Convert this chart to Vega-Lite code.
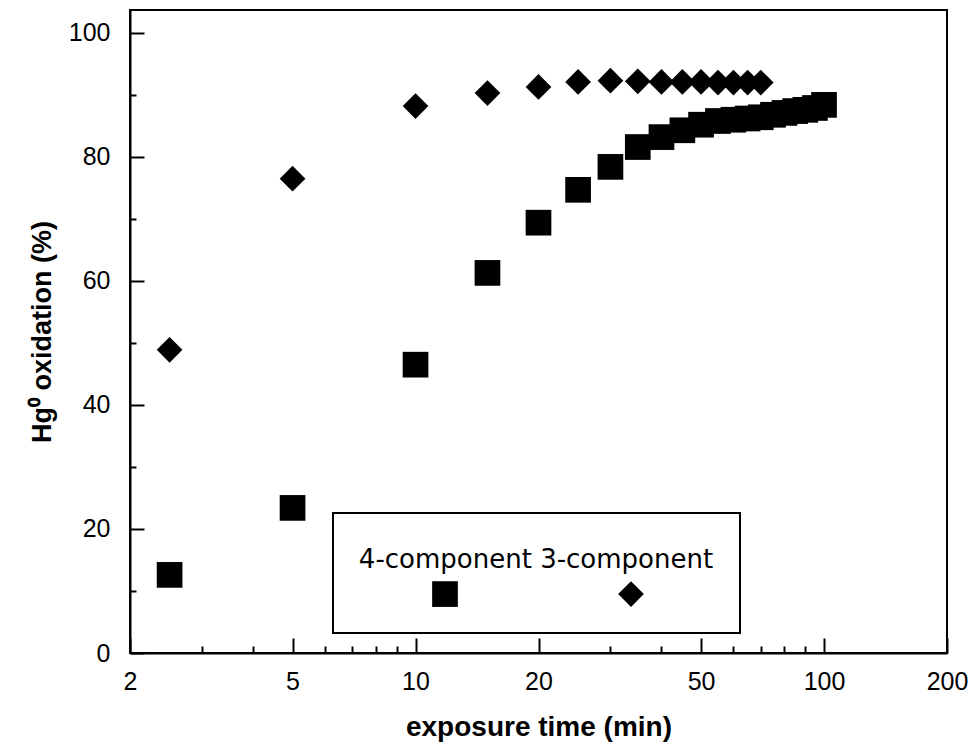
{
  "$schema": "https://vega.github.io/schema/vega-lite/v6.json",
  "autosize": "none",
  "width": 817,
  "height": 643,
  "padding": {"left": 130, "top": 10, "right": 28, "bottom": 91},
  "background": "white",
  "config": {
    "view": {"stroke": "black", "strokeWidth": 2},
    "axis": {
      "domainColor": "black",
      "domainWidth": 2,
      "tickColor": "black",
      "tickWidth": 2,
      "labelColor": "black",
      "labelFont": "Liberation Sans",
      "labelFontSize": 25,
      "titleFont": "Liberation Sans",
      "titleFontWeight": "bold",
      "titleColor": "black",
      "grid": false
    },
    "legend": {
      "strokeWidth": 2
    }
  },
  "data": {
    "values": [
      {"t": 2.5, "v": 12.6, "series": "4-component"},
      {"t": 5, "v": 23.4, "series": "4-component"},
      {"t": 10, "v": 46.5, "series": "4-component"},
      {"t": 15, "v": 61.3, "series": "4-component"},
      {"t": 20, "v": 69.4, "series": "4-component"},
      {"t": 25, "v": 74.7, "series": "4-component"},
      {"t": 30, "v": 78.4, "series": "4-component"},
      {"t": 35, "v": 81.6, "series": "4-component"},
      {"t": 40, "v": 83.2, "series": "4-component"},
      {"t": 45, "v": 84.3, "series": "4-component"},
      {"t": 50, "v": 85.2, "series": "4-component"},
      {"t": 55, "v": 85.8, "series": "4-component"},
      {"t": 60, "v": 86.0, "series": "4-component"},
      {"t": 65, "v": 86.2, "series": "4-component"},
      {"t": 70, "v": 86.4, "series": "4-component"},
      {"t": 75, "v": 86.8, "series": "4-component"},
      {"t": 80, "v": 87.1, "series": "4-component"},
      {"t": 85, "v": 87.4, "series": "4-component"},
      {"t": 90, "v": 87.6, "series": "4-component"},
      {"t": 95, "v": 87.9, "series": "4-component"},
      {"t": 100, "v": 88.4, "series": "4-component"},
      {"t": 2.5, "v": 48.9, "series": "3-component"},
      {"t": 5, "v": 76.5, "series": "3-component"},
      {"t": 10, "v": 88.2, "series": "3-component"},
      {"t": 15, "v": 90.3, "series": "3-component"},
      {"t": 20, "v": 91.3, "series": "3-component"},
      {"t": 25, "v": 92.1, "series": "3-component"},
      {"t": 30, "v": 92.3, "series": "3-component"},
      {"t": 35, "v": 92.2, "series": "3-component"},
      {"t": 40, "v": 92.1, "series": "3-component"},
      {"t": 45, "v": 92.1, "series": "3-component"},
      {"t": 50, "v": 92.1, "series": "3-component"},
      {"t": 55, "v": 92.0, "series": "3-component"},
      {"t": 60, "v": 92.0, "series": "3-component"},
      {"t": 65, "v": 92.0, "series": "3-component"},
      {"t": 70, "v": 92.0, "series": "3-component"}
    ]
  },
  "mark": {"type": "point", "filled": true, "opacity": 1, "size": 660},
  "encoding": {
    "x": {
      "field": "t",
      "type": "quantitative",
      "scale": {"type": "log", "domain": [2, 200], "nice": false},
      "axis": {
        "title": "exposure time (min)",
        "titleFontSize": 28,
        "titlePadding": 11,
        "values": [2, 3, 4, 5, 6, 7, 8, 9, 10, 20, 30, 40, 50, 60, 70, 80, 90, 100, 200],
        "labelExpr": "indexof([2,5,10,20,50,100,200], datum.value) >= 0 ? datum.label : ''",
        "tickSize": {"condition": {"test": "indexof([2,5,10,20,50,100,200], datum.value) >= 0", "value": -15}, "value": -7},
        "labelPadding": 31,
        "labelFlush": false,
        "labelOverlap": false
      }
    },
    "y": {
      "field": "v",
      "type": "quantitative",
      "scale": {"domain": [0, 103.7], "nice": false, "zero": false},
      "axis": {
        "title": "Hg⁰ oxidation (%)",
        "titleFontSize": 27,
        "titlePadding": 12,
        "values": [0, 10, 20, 30, 40, 50, 60, 70, 80, 90, 100],
        "labelExpr": "datum.value % 20 == 0 ? datum.label : ''",
        "tickSize": {"condition": {"test": "datum.value % 20 == 0", "value": -14}, "value": -6},
        "labelPadding": 34,
        "labelOverlap": false
      }
    },
    "color": {
      "field": "series",
      "type": "nominal",
      "scale": {"domain": ["4-component", "3-component"], "range": ["black", "black"]},
      "legend": {
        "title": ["", "4-component 3-component"],
        "titleFont": "DejaVu Sans",
        "titleFontSize": 26,
        "titleFontWeight": "normal",
        "titleColor": "black",
        "titleAnchor": "middle",
        "titleLimit": 1000,
        "titleLineHeight": 8,
        "titlePadding": 8,
        "labelExpr": "''",
        "labelOffset": 0,
        "symbolOffset": 4,
        "columnPadding": 156,
        "direction": "horizontal",
        "orient": "none",
        "legendX": 203,
        "legendY": 503,
        "padding": 26,
        "fillColor": "white",
        "strokeColor": "black",
        "symbolSize": 660,
        "symbolStrokeWidth": 0,
        "symbolOpacity": 1
      }
    },
    "shape": {
      "field": "series",
      "type": "nominal",
      "scale": {"domain": ["4-component", "3-component"], "range": ["square", "diamond"]}
    }
  }
}
